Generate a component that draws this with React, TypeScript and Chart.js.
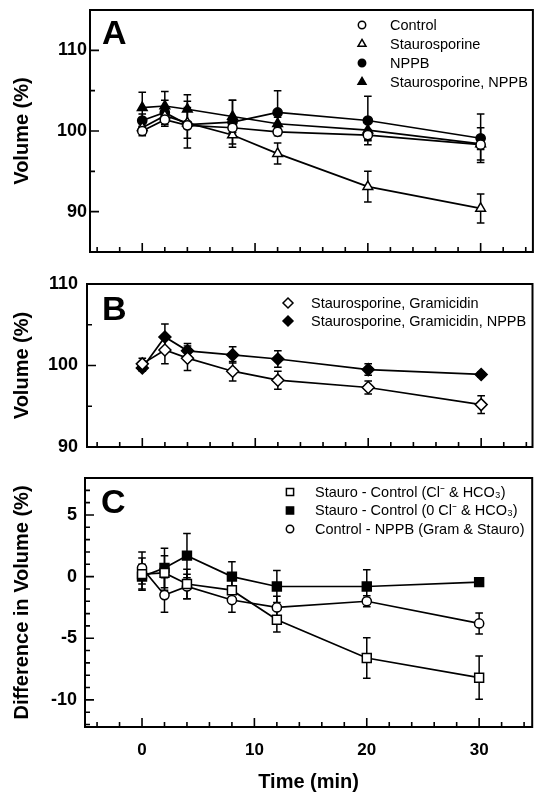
import React, { useEffect, useRef } from 'react';
import { Chart, registerables } from 'chart.js';

Chart.register(...registerables);

const FONT = "'Liberation Sans', Arial, Helvetica, sans-serif";
Chart.defaults.font.family = FONT;
Chart.defaults.color = '#000';

// ---------- data ----------
const times = [0, 2, 4, 8, 12, 20, 30];
const xTickLabels = [0, 10, 20, 30];

// Panel A
const controlA = [100.0, 101.4, 100.7, 100.4, 99.9, 99.5, 98.3];
const controlAErr = [0.6, 0.8, 0.4, 0.6, 0.5, 0.7, 0.6];
const stauroA = [100.4, 101.9, 101.0, 99.5, 97.2, 93.1, 90.4];
const stauroAErr = [0.5, 0.8, 1.9, 1.5, 1.3, 1.9, 1.8];
const nppbA = [101.3, 102.3, 100.8, 101.1, 102.3, 101.3, 99.1];
const nppbAErr = [0.8, 1.5, 2.9, 2.7, 2.7, 3.0, 3.0];
const stNppbA = [102.9, 103.1, 102.7, 101.8, 100.9, 100.1, 98.4];
const stNppbAErr = [1.9, 1.8, 1.8, 2.0, 0.8, 1.2, 2.0];
const yTicksA = [90, 100, 110];

// Panel B
const stGramB = [100.2, 101.9, 100.9, 99.3, 98.2, 97.3, 95.2];
const stGramBErr = [0.7, 1.7, 1.5, 1.2, 1.1, 0.8, 1.1];
const stGramNppbB = [99.7, 103.5, 101.8, 101.3, 100.8, 99.5, 98.9];
const stGramNppbBErr = [0.4, 1.6, 0.9, 1.0, 1.0, 0.7, 0.3];
const yTicksB = [90, 100, 110];

// Panel C
const stCtrlClC = [0.2, 0.3, -0.6, -1.1, -3.5, -6.6, -8.2];
const stCtrlClCErr = [1.3, 1.4, 1.2, 0.9, 1.0, 1.65, 1.75];
const stCtrl0ClC = [0.0, 0.7, 1.7, 0.0, -0.8, -0.8, -0.45];
const stCtrl0ClCErr = [1.0, 1.6, 1.8, 1.2, 1.3, 1.35, 0.3];
const ctrlNppbC = [0.7, -1.5, -0.8, -1.9, -2.5, -2.0, -3.8];
const ctrlNppbCErr = [1.3, 1.4, 1.0, 1.0, 0.9, 0.45, 0.85];
const yTicksC = [-10, -5, 0, 5];

type Series = { label: string; values: number[]; errors: number[]; style: string; filled: boolean };

type PanelSpec = {
  letter: string;
  top: number; // canvas top in page
  height: number; // canvas height
  areaTop: number; // chart area top (within canvas)
  xHeight: number; // x scale box height
  left: number; // chart area left
  right: number; // chart area right
  xMin: number; xMax: number;
  yMin: number; yMax: number;
  yTicks: number[];
  yMinor: number; yMajor: number;
  yTitle: string;
  yPad: number;
  showX: boolean;
  series: Series[];
  legend: { mx: number; tx: number; rows: number[] };
  letterPos: { x: number; y: number };
};

const radiusFor = (s: string) => (s === 'circle' ? 4.6 : s === 'triangle' ? 5.6 : s === 'rectRot' ? 6 : 6.3);

function drawMarker(ctx: CanvasRenderingContext2D, style: string, x: number, y: number, filled: boolean) {
  ctx.beginPath();
  if (style === 'circle') {
    ctx.arc(x, y, 3.7, 0, Math.PI * 2);
  } else if (style === 'triangle') {
    const r = 4.6;
    ctx.moveTo(x, y - r);
    ctx.lineTo(x + r * 0.866, y + r * 0.5);
    ctx.lineTo(x - r * 0.866, y + r * 0.5);
    ctx.closePath();
  } else if (style === 'rectRot') {
    const r = 5;
    ctx.moveTo(x, y - r);
    ctx.lineTo(x + r, y);
    ctx.lineTo(x, y + r);
    ctx.lineTo(x - r, y);
    ctx.closePath();
  } else {
    const h = 3.6;
    ctx.rect(x - h, y - h, 2 * h, 2 * h);
  }
  ctx.fillStyle = filled ? '#000' : '#fff';
  ctx.fill();
  ctx.lineWidth = 1.5;
  ctx.strokeStyle = '#000';
  ctx.stroke();
}

const decoPlugin = {
  id: 'deco',
  beforeDatasetsDraw(chart: any, _args: any, opts: any) {
    const { ctx, scales } = chart;
    const x = scales.x, y = scales.y;
    const spec: PanelSpec = opts.spec;
    ctx.save();
    ctx.strokeStyle = '#000';
    ctx.lineWidth = 1.5;
    spec.series.forEach((s) => {
      times.forEach((t, i) => {
        const e = s.errors[i];
        if (!e) return;
        const px = x.getPixelForValue(t);
        const pt = y.getPixelForValue(s.values[i] + e);
        const pb = y.getPixelForValue(s.values[i] - e);
        ctx.beginPath();
        ctx.moveTo(px, pt); ctx.lineTo(px, pb);
        ctx.moveTo(px - 3.8, pt); ctx.lineTo(px + 3.8, pt);
        ctx.moveTo(px - 3.8, pb); ctx.lineTo(px + 3.8, pb);
        ctx.stroke();
      });
    });
    ctx.restore();
  },
  afterDraw(chart: any, _args: any, opts: any) {
    const { ctx, chartArea: a, scales } = chart;
    const x = scales.x, y = scales.y;
    const spec: PanelSpec = opts.spec;
    ctx.save();
    ctx.strokeStyle = '#000';
    // frame
    ctx.lineWidth = 2;
    ctx.strokeRect(a.left, a.top, a.right - a.left, a.bottom - a.top);
    // x ticks (inward)
    ctx.lineWidth = 1.6;
    ctx.beginPath();
    for (let v = Math.ceil(spec.xMin / 2) * 2; v <= spec.xMax; v += 2) {
      const px = x.getPixelForValue(v);
      const len = v % 10 === 0 ? 9 : 5;
      ctx.moveTo(px, a.bottom); ctx.lineTo(px, a.bottom - len);
    }
    // y ticks (inward)
    for (let v = Math.ceil(spec.yMin / spec.yMinor) * spec.yMinor; v <= spec.yMax; v += spec.yMinor) {
      const py = y.getPixelForValue(v);
      const len = Math.abs(v % spec.yMajor) < 1e-6 ? 9 : 5;
      ctx.moveTo(a.left, py); ctx.lineTo(a.left + len, py);
    }
    ctx.stroke();
    // panel letter
    ctx.fillStyle = '#000';
    ctx.font = `bold 34px ${FONT}`;
    ctx.textBaseline = 'alphabetic';
    ctx.textAlign = 'left';
    ctx.fillText(spec.letter, spec.letterPos.x, spec.letterPos.y);
    // legend
    ctx.font = `14.5px ${FONT}`;
    ctx.textBaseline = 'middle';
    spec.series.forEach((s, i) => {
      const ry = spec.legend.rows[i];
      drawMarker(ctx, s.style, spec.legend.mx, ry, s.filled);
      ctx.fillStyle = '#000';
      ctx.fillText(s.label, spec.legend.tx, ry + 0.5);
    });
    ctx.restore();
  },
};

function buildConfig(spec: PanelSpec): any {
  return {
    type: 'line',
    data: {
      datasets: spec.series.map((s) => ({
        label: s.label,
        data: times.map((t, i) => ({ x: t, y: s.values[i] })),
        borderColor: '#000',
        borderWidth: 1.7,
        pointStyle: s.style,
        pointRadius: radiusFor(s.style),
        pointBackgroundColor: s.filled ? '#000' : '#fff',
        pointBorderColor: '#000',
        pointBorderWidth: 1.5,
        tension: 0,
        fill: false,
      })),
    },
    options: {
      responsive: false,
      animation: false,
      devicePixelRatio: 1,
      events: [],
      layout: { padding: { top: spec.areaTop, right: 540 - spec.right, left: 0, bottom: 0 } },
      plugins: {
        legend: { display: false },
        tooltip: { enabled: false },
        deco: { spec },
      },
      scales: {
        x: {
          type: 'linear',
          min: spec.xMin,
          max: spec.xMax,
          grid: { display: false, drawTicks: false },
          border: { display: false },
          afterBuildTicks: (s: any) => { s.ticks = xTickLabels.map((v) => ({ value: v })); },
          ticks: {
            display: spec.showX,
            font: { size: 17, weight: 'bold' },
            color: '#000',
            padding: 13,
            maxRotation: 0,
          },
          title: {
            display: spec.showX,
            text: 'Time (min)',
            font: { size: 20, weight: 'bold' },
            color: '#000',
            padding: { top: 0, bottom: 0 },
          },
          afterFit: (s: any) => {
            s.height = spec.xHeight;
            s.paddingLeft = 0; s.paddingRight = 0; s.paddingTop = 0; s.paddingBottom = 0;
          },
        },
        y: {
          type: 'linear',
          min: spec.yMin,
          max: spec.yMax,
          grid: { display: false, drawTicks: false },
          border: { display: false },
          afterBuildTicks: (s: any) => { s.ticks = spec.yTicks.map((v) => ({ value: v })); },
          ticks: {
            font: { size: 18, weight: 'bold' },
            color: '#000',
            padding: spec.yPad,
          },
          title: {
            display: true,
            text: spec.yTitle,
            font: { size: 20, weight: 'bold' },
            color: '#000',
            padding: { top: 10, bottom: 0 },
          },
          afterFit: (s: any) => {
            s.width = spec.left;
            s.paddingLeft = 0; s.paddingRight = 0; s.paddingTop = 0; s.paddingBottom = 0;
          },
        },
      },
    },
    plugins: [decoPlugin],
  };
}

const OFF = 142.5;
const PPM = 11.333;

const panels: PanelSpec[] = [
  {
    letter: 'A', top: 0, height: 262, areaTop: 10, xHeight: 10, left: 90, right: 535,
    xMin: (90 - OFF) / PPM, xMax: (535 - OFF) / PPM,
    yMin: 85, yMax: 115, yTicks: yTicksA, yMinor: 5, yMajor: 10,
    yTitle: 'Volume (%)', yPad: 3, showX: false,
    series: [
      { label: 'Control', values: controlA, errors: controlAErr, style: 'circle', filled: false },
      { label: 'Staurosporine', values: stauroA, errors: stauroAErr, style: 'triangle', filled: false },
      { label: 'NPPB', values: nppbA, errors: nppbAErr, style: 'circle', filled: true },
      { label: 'Staurosporine, NPPB', values: stNppbA, errors: stNppbAErr, style: 'triangle', filled: true },
    ],
    legend: { mx: 362, tx: 390, rows: [25, 44, 63, 82] },
    letterPos: { x: 102, y: 44 },
  },
  {
    letter: 'B', top: 262, height: 200, areaTop: 22, xHeight: 15, left: 87, right: 534,
    xMin: (87 - OFF) / PPM, xMax: (534 - OFF) / PPM,
    yMin: 90, yMax: 110, yTicks: yTicksB, yMinor: 5, yMajor: 10,
    yTitle: 'Volume (%)', yPad: 9, showX: false,
    series: [
      { label: 'Staurosporine, Gramicidin', values: stGramB, errors: stGramBErr, style: 'rectRot', filled: false },
      { label: 'Staurosporine, Gramicidin, NPPB', values: stGramNppbB, errors: stGramNppbBErr, style: 'rectRot', filled: true },
    ],
    legend: { mx: 288, tx: 311, rows: [41, 59] },
    letterPos: { x: 102, y: 58 },
  },
  {
    letter: 'C', top: 462, height: 332, areaTop: 16, xHeight: 67, left: 85, right: 536,
    xMin: (85 - OFF) / PPM, xMax: (536 - OFF) / PPM,
    yMin: -12.2, yMax: 8, yTicks: yTicksC, yMinor: 1, yMajor: 5,
    yTitle: 'Difference in Volume (%)', yPad: 8, showX: true,
    series: [
      { label: 'Stauro - Control (Cl⁻ & HCO₃)', values: stCtrlClC, errors: stCtrlClCErr, style: 'rect', filled: false },
      { label: 'Stauro - Control (0 Cl⁻ & HCO₃)', values: stCtrl0ClC, errors: stCtrl0ClCErr, style: 'rect', filled: true },
      { label: 'Control - NPPB (Gram & Stauro)', values: ctrlNppbC, errors: ctrlNppbCErr, style: 'circle', filled: false },
    ],
    legend: { mx: 290, tx: 315, rows: [30, 48.5, 67] },
    letterPos: { x: 101, y: 51 },
  },
];

function Panel({ spec }: { spec: PanelSpec }) {
  const ref = useRef<HTMLCanvasElement | null>(null);
  useEffect(() => {
    if (!ref.current) return;
    const chart = new Chart(ref.current, buildConfig(spec));
    return () => chart.destroy();
  }, [spec]);
  return (
    <div style={{ position: 'absolute', left: 0, top: spec.top, width: 540, height: spec.height }}>
      <canvas ref={ref} width={540} height={spec.height} style={{ width: 540, height: spec.height, display: 'block' }} />
    </div>
  );
}

export default function App() {
  return (
    <div style={{ position: 'absolute', left: 0, top: 0, width: 540, height: 794, background: '#fff' }}>
      {panels.map((p) => (
        <Panel key={p.letter} spec={p} />
      ))}
    </div>
  );
}
